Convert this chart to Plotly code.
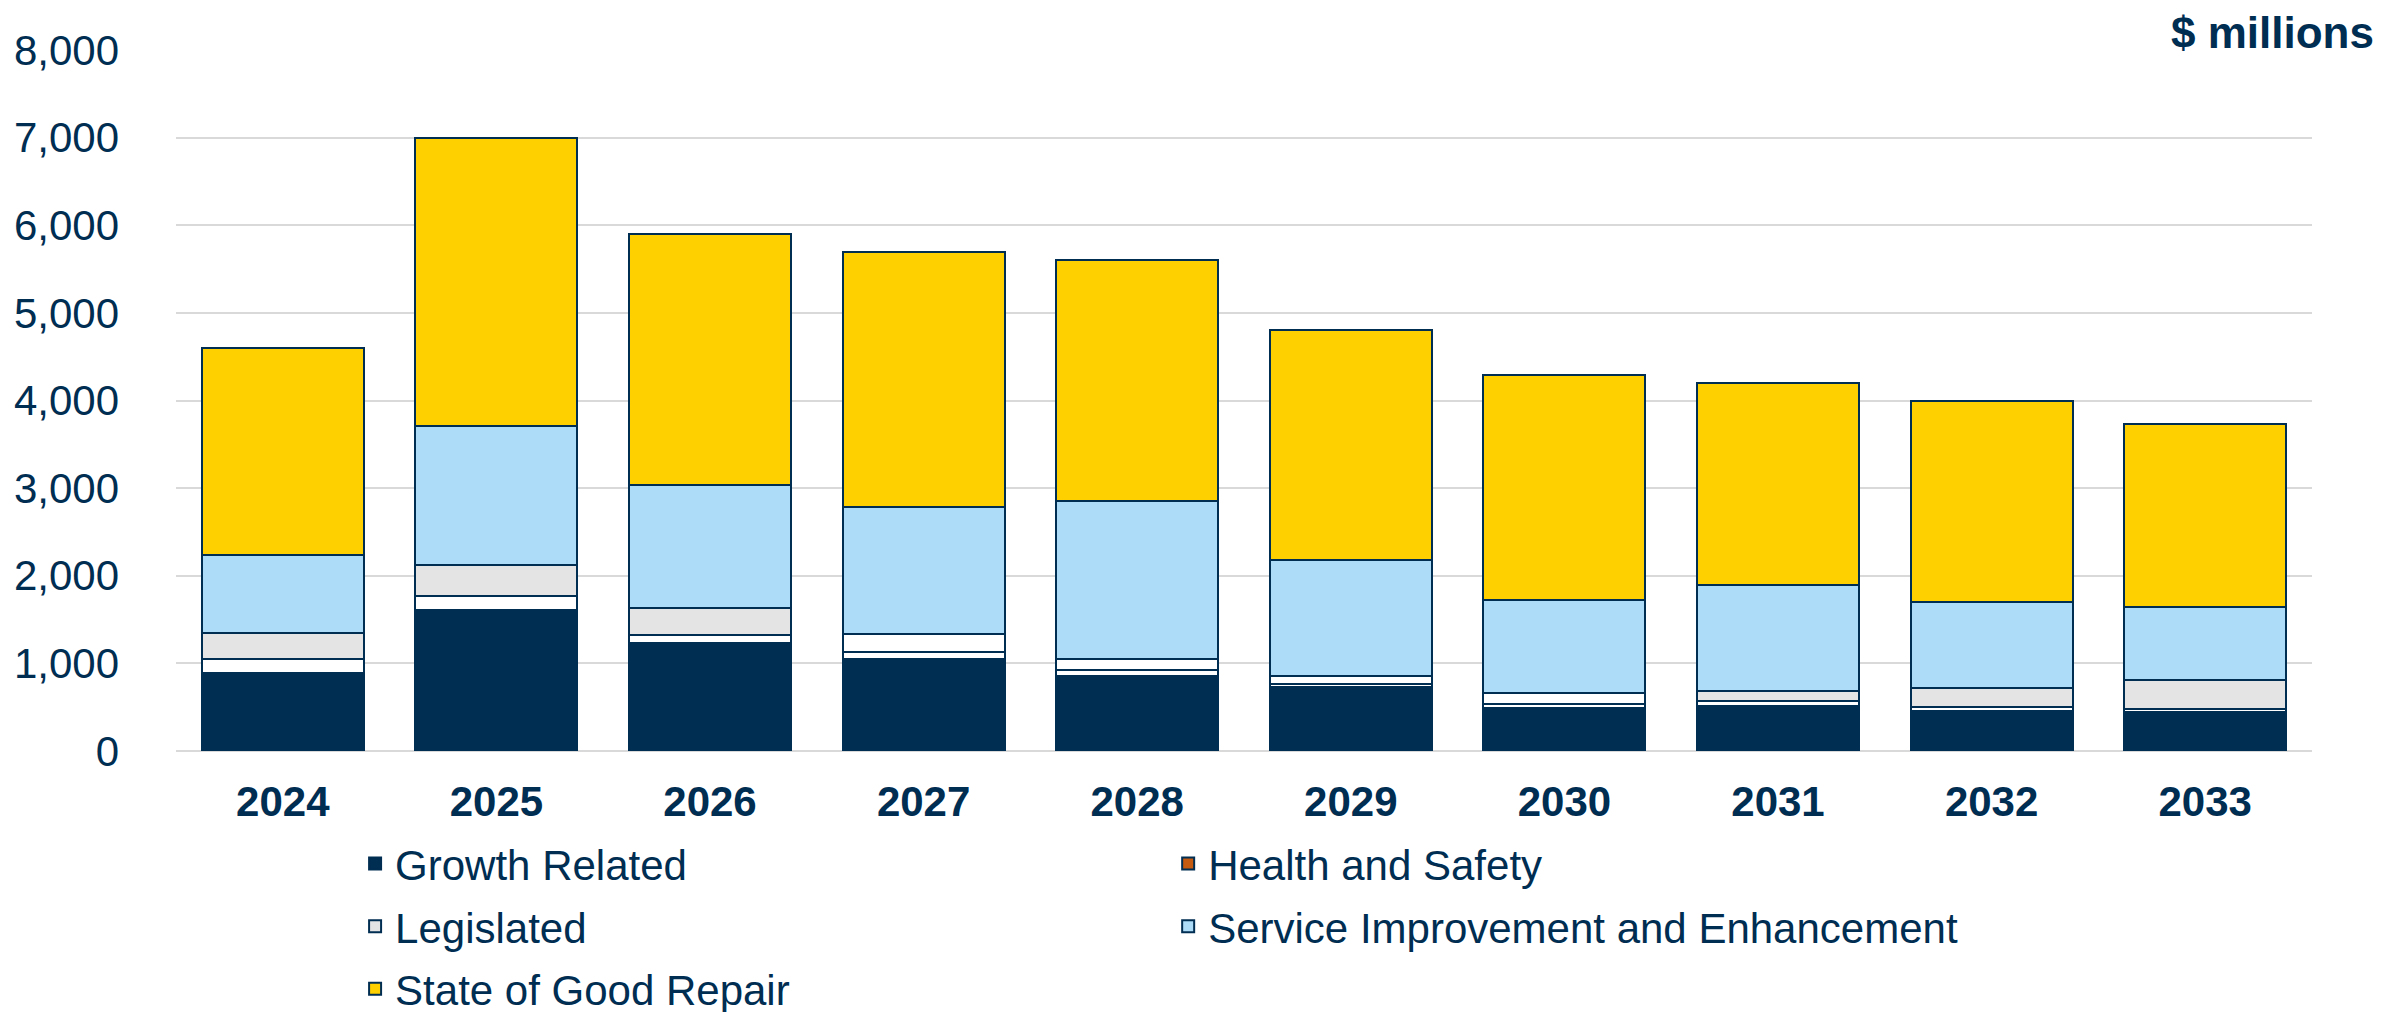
import plotly.graph_objects as go

years = ["2024", "2025", "2026", "2027", "2028", "2029", "2030", "2031", "2032", "2033"]
growth_related = [895, 1606, 1237, 1047, 853, 731, 495, 518, 457, 442]
health_safety = [160, 160, 84, 80, 68, 34, 42, 49, 46, 37]
legislated = [292, 362, 312, 213, 126, 96, 125, 115, 213, 336]
service_improvement = [895, 1582, 1404, 1445, 1811, 1316, 1058, 1213, 985, 829]
state_good_repair = [2358, 3290, 2863, 2905, 2742, 2623, 2570, 2305, 2299, 2086]
y_ticks = [0, 1000, 2000, 3000, 4000, 5000, 6000, 7000, 8000]

NAVY = "#002D52"
TEXT = "#002D52"
FONT = "Liberation Sans, Arial, sans-serif"
legis_colors = ["#E4E4E4", "#E4E4E4", "#E4E4E4", "#FFFFFF", "#FFFFFF",
                "#FFFFFF", "#FFFFFF", "#E4E4E4", "#E4E4E4", "#E4E4E4"]

line = dict(color=NAVY, width=2)
fig = go.Figure()
fig.add_trace(go.Bar(x=years, y=growth_related, name="Growth Related",
                     marker=dict(color=NAVY, line=line), legend="legend",
                     legendgroup="g1", legendrank=1))
fig.add_trace(go.Bar(x=years, y=health_safety, name="Health and Safety",
                     marker=dict(color="#FFFFFF", line=line), showlegend=False))
fig.add_trace(go.Bar(x=years, y=legislated, name="Legislated",
                     marker=dict(color=legis_colors, line=line), legend="legend",
                     legendgroup="g3", legendrank=3))
fig.add_trace(go.Bar(x=years, y=service_improvement, name="Service Improvement and Enhancement",
                     marker=dict(color="#ADDCF8", line=line), legend="legend2",
                     legendgroup="g4", legendrank=4))
fig.add_trace(go.Bar(x=years, y=state_good_repair, name="State of Good Repair",
                     marker=dict(color="#FFD000", line=line), legend="legend",
                     legendgroup="g5", legendrank=5))
# legend entry for Health and Safety
fig.add_trace(go.Bar(x=[None], y=[None], name="Health and Safety",
                     marker=dict(color="#C55A11", line=line), legend="legend2",
                     legendgroup="g2", legendrank=2))

legend_common = dict(
    orientation="v", traceorder="grouped", tracegroupgap=5,
    font=dict(family=FONT, size=42, color=TEXT),
    bgcolor="rgba(0,0,0,0)", xanchor="left", yanchor="top", itemclick=False,
    xref="container", yref="container",
)

fig.update_layout(
    width=2402, height=1012,
    barmode="stack", bargap=0.242,
    plot_bgcolor="white", paper_bgcolor="white",
    margin=dict(l=168, r=98, t=42, b=269, autoexpand=False),
    font=dict(family=FONT, size=42, color=TEXT),
    xaxis=dict(
        type="category", showgrid=False, showline=False, ticks="",
        tickfont=dict(family=FONT, size=42, color=TEXT, weight="bold"),
        ticklabelstandoff=22,
    ),
    yaxis=dict(
        range=[0, 8000], tickvals=y_ticks, tickformat=",d",
        showgrid=True, gridcolor="#D9D9D9", gridwidth=2,
        zeroline=True, zerolinecolor="#D9D9D9", zerolinewidth=2,
        showline=False, ticks="",
        tickfont=dict(family=FONT, size=42, color=TEXT),
        ticklabelstandoff=56,
    ),
    legend=dict(x=0.1445, y=0.188, **legend_common),
    legend2=dict(x=0.483, y=0.188, **legend_common),
    annotations=[dict(
        text="<b>$ millions</b>", xref="paper", yref="paper", x=1, y=1,
        xanchor="right", yanchor="middle", xshift=64, yshift=18, showarrow=False,
        font=dict(family=FONT, size=44, color=TEXT),
    )],
)

fig.write_html("out.html")
